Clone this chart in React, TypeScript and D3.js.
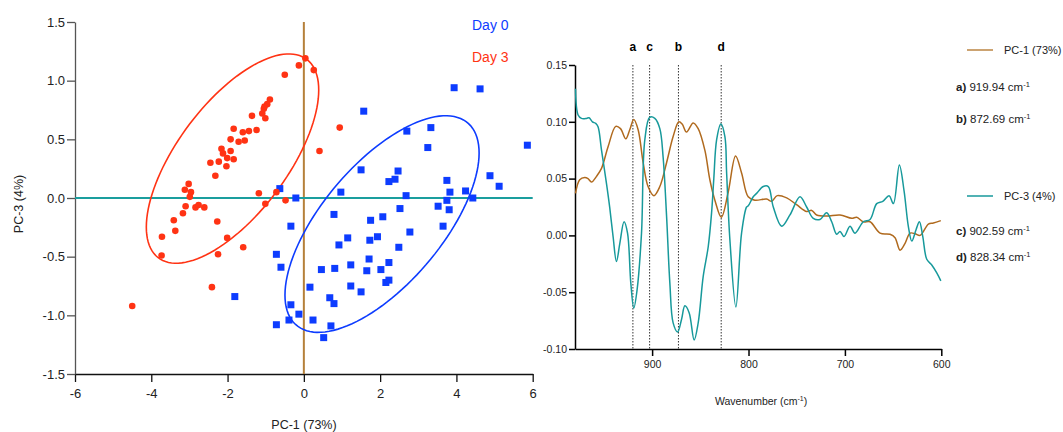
import React, { useEffect, useRef } from "react";
import * as d3 from "d3";

// ---- score plot data (PC-1 vs PC-3) ----
const day0X = [3.94, 4.62, 1.57, 3.33, 2.7, 5.86, 3.25, 1.5, 2.47, 2.39, 2.23, 3.75, 4.88, 5.12, 0.97, 2.68, 3.83, 4.24, 3.75, 4.43, -0.63, -0.21, 3.52, 3.81, 2.52, 0.79, 2.07, 1.75, -0.34, 3.65, 2.78, 1.15, 1.93, 1.73, 0.92, 2.49, -0.72, -0.6, 1.71, 2.23, 1.23, 0.46, 0.81, 1.65, 2.02, 2.23, 2.15, 0.16, 1.23, 1.5, 0.68, 0.79, -0.34, -0.13, -0.39, 0.24, -0.72, 0.71, 0.52, -1.81];
const day0Y = [0.94, 0.93, 0.74, 0.6, 0.57, 0.45, 0.43, 0.24, 0.23, 0.16, 0.14, 0.15, 0.19, 0.1, 0.05, 0.02, 0.05, 0.06, -0.02, 0.0, 0.08, 0.0, -0.07, -0.1, -0.09, -0.14, -0.16, -0.19, -0.24, -0.24, -0.29, -0.34, -0.33, -0.36, -0.4, -0.42, -0.48, -0.59, -0.52, -0.55, -0.57, -0.61, -0.6, -0.62, -0.61, -0.7, -0.72, -0.76, -0.75, -0.8, -0.85, -0.9, -0.91, -0.99, -1.04, -1.04, -1.08, -1.09, -1.19, -0.84];

const day3X = [-0.89, -0.96, -1.05, -1.09, -1.01, -1.03, -1.36, -1.24, -1.44, -1.6, -1.55, -1.71, -1.84, -1.92, -2.16, -2.12, -2.01, -1.92, -1.84, -2.03, -2.23, -2.45, -2.32, -3.02, -3.12, -2.96, -2.99, -1.18, -1.01, -0.72, -0.48, -3.1, -3.17, -2.84, -2.76, -2.61, -3.41, -3.37, -3.72, -2.27, -2.01, -2.25, -3.73, -1.59, -2.41, -4.5, 0.04, -0.13, 0.26, -0.5, 0.94, 0.41];
const day3Y = [0.84, 0.8, 0.76, 0.72, 0.68, 0.78, 0.7, 0.58, 0.57, 0.56, 0.49, 0.48, 0.59, 0.5, 0.42, 0.38, 0.34, 0.4, 0.33, 0.27, 0.31, 0.3, 0.19, 0.12, 0.07, 0.05, 0.01, 0.04, -0.05, 0.05, -0.02, -0.07, -0.13, -0.08, -0.06, -0.08, -0.19, -0.28, -0.33, -0.2, -0.34, -0.48, -0.49, -0.42, -0.76, -0.92, 1.19, 1.13, 1.09, 1.05, 0.6, 0.4];

// confidence ellipses: [centerX, centerY, halfWidthX, halfWidthY, phase]
const ellipseDay0 = [2.05, -0.222, 2.545, 0.923, 0.855];
const ellipseDay3 = [-1.87, 0.336, 2.26, 0.892, 0.857];

const scoreXTicks = [-6, -4, -2, 0, 2, 4, 6];
const scoreYTicks = [-1.5, -1.0, -0.5, 0.0, 0.5, 1.0, 1.5];

// ---- loadings data ----
const pc1Wn = [979.5, 975.1, 969.9, 966.5, 962.9, 957.7, 952.5, 945.7, 937.7, 932.8, 927.3, 923.2, 919.0, 914.5, 909.3, 904.2, 898.2, 892.0, 885.0, 878.2, 872.3, 868.8, 864.3, 857.4, 852.2, 845.3, 840.1, 834.9, 828.2, 821.1, 813.4, 807.2, 800.3, 793.4, 781.2, 776.0, 770.2, 760.4, 750.1, 739.7, 734.5, 729.3, 718.9, 705.1, 692.9, 687.8, 680.9, 673.9, 663.5, 653.2, 648.0, 642.8, 637.6, 632.4, 627.2, 622.0, 613.4, 608.2, 600.5];
const pc1Val = [0.037, 0.049, 0.051, 0.05, 0.047, 0.052, 0.059, 0.078, 0.096, 0.094, 0.085, 0.093, 0.102, 0.093, 0.064, 0.043, 0.035, 0.043, 0.064, 0.087, 0.1, 0.098, 0.091, 0.099, 0.094, 0.075, 0.049, 0.031, 0.016, 0.038, 0.07, 0.055, 0.034, 0.031, 0.032, 0.03, 0.035, 0.033, 0.027, 0.021, 0.022, 0.018, 0.017, 0.018, 0.015, 0.016, 0.012, 0.012, 0.002, 0.001, -0.002, -0.013, -0.007, 0.002, 0.0015, 0.0, 0.01, 0.011, 0.013];

const pc3Wn = [979.5, 976.8, 973.3, 968.1, 965.4, 961.9, 958.5, 956.1, 952.5, 947.4, 943.9, 940.5, 937.0, 933.5, 929.1, 925.5, 922.1, 919.0, 915.6, 911.0, 907.6, 902.4, 897.2, 892.0, 888.6, 885.0, 881.6, 878.2, 873.6, 869.5, 866.0, 861.6, 856.4, 852.2, 847.0, 841.8, 838.3, 836.0, 833.1, 828.7, 824.5, 822.7, 819.3, 813.1, 807.2, 802.0, 800.3, 795.1, 791.6, 784.7, 779.5, 774.3, 765.6, 757.0, 746.6, 739.7, 732.8, 725.9, 718.9, 713.7, 708.5, 705.1, 700.9, 694.7, 689.5, 680.9, 673.9, 667.0, 660.7, 654.2, 649.7, 643.5, 638.6, 634.2, 630.6, 626.2, 622.7, 619.2, 615.1, 609.9, 604.7, 600.5];
const pc3Val = [0.129, 0.106, 0.103, 0.103, 0.1035, 0.1, 0.0986, 0.0956, 0.075, 0.046, 0.024, -0.001, -0.023, -0.007, 0.012, 0.002, -0.042, -0.064, -0.048, 0.002, 0.084, 0.104, 0.103, 0.094, 0.069, 0.017, -0.042, -0.077, -0.085, -0.074, -0.062, -0.068, -0.092, -0.077, -0.036, -0.01, 0.02, 0.05, 0.084, 0.098, 0.087, 0.055, -0.004, -0.063, 0.002, 0.025, 0.026, 0.034, 0.037, 0.043, 0.043, 0.025, 0.008, 0.018, 0.034, 0.025, 0.015, 0.014, 0.02, 0.012, 0.001, 0.0035, -0.001, 0.008, 0.002, 0.012, 0.014, 0.028, 0.03, 0.035, 0.028, 0.062, 0.039, 0.008, -0.005, 0.005, 0.012, -0.001, -0.021, -0.026, -0.033, -0.04];

const peakLetters = ["a", "c", "b", "d"];
const peakWn = [919.94, 902.59, 872.69, 828.34];

const loadXTicks = [900, 800, 700, 600];
const loadYTicks = [-0.1, -0.05, 0.0, 0.05, 0.1, 0.15];

const pc1Notes = [["a)", "919.94"], ["b)", "872.69"]];
const pc3Notes = [["c)", "902.59"], ["d)", "828.34"]];

const RED = "#ff3314";
const BLUE = "#0d3cff";
const BROWN = "#b06a1e";
const TEAL = "#17999b";
const FONT = "'Liberation Sans', Arial, sans-serif";

export default function App() {
  const svgRef = useRef(null);

  useEffect(() => {
    const svg = d3.select(svgRef.current);
    svg.selectAll("*").remove();
    svg.style("font-family", FONT);

    // ================= score plot =================
    const x = d3.scaleLinear().domain([-6, 6]).range([75, 532.7]);
    const y = d3.scaleLinear().domain([-1.5, 1.5]).range([374, 22]);

    const gx = svg
      .append("g")
      .attr("transform", `translate(0,${y(-1.5)})`)
      .call(
        d3.axisBottom(x).tickValues(scoreXTicks).tickSize(8).tickSizeOuter(0).tickPadding(7)
          .tickFormat((d) => String(d))
      );
    gx.selectAll("text").style("font-size", "13px").attr("fill", "#222");
    gx.selectAll("line,path").attr("stroke", "#111").attr("stroke-width", 1.3);

    const gy = svg
      .append("g")
      .attr("transform", `translate(${x(-6)},0)`)
      .call(
        d3.axisLeft(y).tickValues(scoreYTicks).tickSize(8).tickSizeOuter(0).tickPadding(2)
          .tickFormat((d) => d.toFixed(1))
      );
    gy.selectAll("text").style("font-size", "13px").attr("fill", "#222");
    gy.selectAll("line,path").attr("stroke", "#555").attr("stroke-width", 1.3);

    // zero lines
    svg.append("line")
      .attr("x1", x(0)).attr("x2", x(0)).attr("y1", y(1.5)).attr("y2", y(-1.5))
      .attr("stroke", "#b5803a").attr("stroke-width", 2);
    svg.append("line")
      .attr("x1", x(-6)).attr("x2", x(6)).attr("y1", y(0)).attr("y2", y(0))
      .attr("stroke", "#1a9e9e").attr("stroke-width", 2);

    // ellipses
    const ellipse = (p) => {
      const [cx, cy, a, b, phi] = p;
      const pts = d3.range(0, 120).map((i) => {
        const t = (i / 120) * Math.PI * 2;
        return [x(cx + a * Math.cos(t)), y(cy + b * Math.cos(t + phi))];
      });
      return d3.line().curve(d3.curveLinearClosed)(pts);
    };
    svg.append("path").attr("d", ellipse(ellipseDay3)).attr("fill", "none")
      .attr("stroke", RED).attr("stroke-width", 1.6);
    svg.append("path").attr("d", ellipse(ellipseDay0)).attr("fill", "none")
      .attr("stroke", BLUE).attr("stroke-width", 1.6);

    // points
    svg.append("g").selectAll("rect").data(day0X).enter().append("rect")
      .attr("x", (d) => x(d) - 3.5)
      .attr("y", (d, i) => y(day0Y[i]) - 3.5)
      .attr("width", 7).attr("height", 7).attr("fill", BLUE);
    svg.append("g").selectAll("circle").data(day3X).enter().append("circle")
      .attr("cx", (d) => x(d))
      .attr("cy", (d, i) => y(day3Y[i]))
      .attr("r", 3.3).attr("fill", RED);

    // legend
    svg.append("text").attr("x", 472).attr("y", 30).attr("fill", BLUE)
      .style("font-size", "14px").text("Day 0");
    svg.append("text").attr("x", 472).attr("y", 62).attr("fill", RED)
      .style("font-size", "14px").text("Day 3");

    // axis titles
    svg.append("text").attr("x", 304).attr("y", 429).attr("text-anchor", "middle")
      .attr("fill", "#222").style("font-size", "12.5px").text("PC-1 (73%)");
    svg.append("text").attr("transform", "translate(23,204) rotate(-90)")
      .attr("text-anchor", "middle").attr("fill", "#222").style("font-size", "12.5px")
      .text("PC-3 (4%)");

    // ================= loadings plot =================
    const lx = d3.scaleLinear().domain([980, 600]).range([575, 941.3]);
    const ly = d3.scaleLinear().domain([-0.1, 0.15]).range([349, 65]);

    const lgx = svg.append("g")
      .attr("transform", `translate(0,${ly(-0.1)})`)
      .call(d3.axisBottom(lx).tickValues(loadXTicks).tickSize(7).tickSizeOuter(0).tickPadding(5)
        .tickFormat((d) => String(d)));
    lgx.selectAll("text").style("font-size", "10.5px").attr("fill", "#222");
    lgx.selectAll("line,path").attr("stroke", "#000").attr("stroke-width", 1.5);

    const lgy = svg.append("g")
      .attr("transform", `translate(${lx(980)},0)`)
      .call(d3.axisLeft(ly).tickValues(loadYTicks).tickSize(6).tickSizeOuter(0).tickPadding(2)
        .tickFormat((d) => d.toFixed(2)));
    lgy.selectAll("text").style("font-size", "10.5px").attr("fill", "#222");
    lgy.selectAll("line,path").attr("stroke", "#000").attr("stroke-width", 1.5);

    // peak markers
    peakWn.forEach((w, i) => {
      svg.append("line")
        .attr("x1", lx(w)).attr("x2", lx(w)).attr("y1", ly(0.15)).attr("y2", ly(-0.1))
        .attr("stroke", "#333").attr("stroke-width", 1).attr("stroke-dasharray", "1.5,1.5");
      svg.append("text").attr("x", lx(w)).attr("y", 51).attr("text-anchor", "middle")
        .style("font-size", "12px").style("font-weight", "bold").text(peakLetters[i]);
    });

    const line = d3.line().curve(d3.curveCatmullRom.alpha(0.5));
    svg.append("path")
      .attr("d", line(pc1Wn.map((w, i) => [lx(w), ly(pc1Val[i])])))
      .attr("fill", "none").attr("stroke", BROWN).attr("stroke-width", 1.5);
    svg.append("path")
      .attr("d", line(pc3Wn.map((w, i) => [lx(w), ly(pc3Val[i])])))
      .attr("fill", "none").attr("stroke", TEAL).attr("stroke-width", 1.5);

    // x title
    const xt = svg.append("text").attr("x", 715).attr("y", 405)
      .attr("fill", "#222").style("font-size", "10.5px");
    xt.append("tspan").text("Wavenumber  (cm");
    xt.append("tspan").attr("dy", -4).style("font-size", "7px").text("-1");
    xt.append("tspan").attr("dy", 4).text(")");

    // right legend
    const note = (yy, parts) => {
      const t = svg.append("text").attr("x", 956).attr("y", yy).attr("fill", "#222")
        .style("font-size", "11.5px");
      t.append("tspan").style("font-weight", "bold").text(parts[0]);
      t.append("tspan").text(` ${parts[1]} cm`);
      t.append("tspan").attr("dy", -4).style("font-size", "7.5px").text("-1");
    };
    const legendItem = (yy, color, label) => {
      svg.append("line").attr("x1", 967).attr("x2", 993).attr("y1", yy).attr("y2", yy)
        .attr("stroke", color).attr("stroke-width", 1.5);
      svg.append("text").attr("x", 1004).attr("y", yy + 4).attr("fill", "#222")
        .style("font-size", "11px").text(label);
    };
    legendItem(50, "#bb8442", "PC-1 (73%)");
    note(91, pc1Notes[0]);
    note(123, pc1Notes[1]);
    legendItem(196, TEAL, "PC-3 (4%)");
    note(235, pc3Notes[0]);
    note(261, pc3Notes[1]);
  }, []);

  return (
    <svg
      ref={svgRef}
      width={1063}
      height={432}
      style={{ position: "absolute", left: 0, top: 0, background: "#fff" }}
    ></svg>
  );
}
